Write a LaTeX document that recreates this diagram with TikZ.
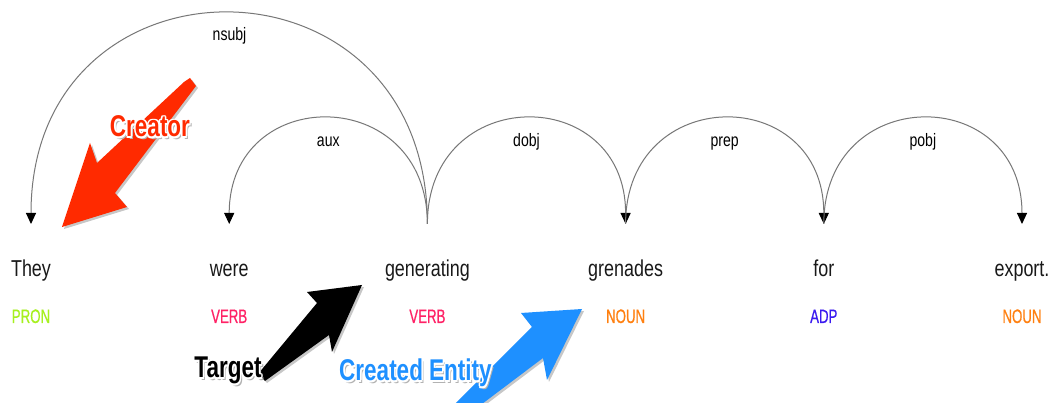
\documentclass[tikz,border=0pt]{standalone}
\usepackage{fontspec}
\usetikzlibrary{arrows.meta,calc}
\newfontfamily\wordfont[FakeStretch=0.78]{Liberation Sans}
\newfontfamily\posfont[FakeStretch=0.68,FakeBold=0.6]{Liberation Sans}
\newfontfamily\callfont[FakeStretch=0.75]{Liberation Sans}
\definecolor{pron}{HTML}{A6F01E}
\definecolor{verb}{HTML}{FF2266}
\definecolor{noun}{HTML}{FF8010}
\definecolor{adp}{HTML}{3A1AF0}
\definecolor{creatorred}{HTML}{FF2A00}
\definecolor{entityblue}{HTML}{1E90FF}
\definecolor{arcgray}{HTML}{777777}
\tikzset{
  word/.style={font=\wordfont\fontsize{23}{26}\selectfont, anchor=base, inner sep=0pt, text=black!90},
  postag/.style={font=\posfont\fontsize{19.5}{22}\selectfont, anchor=base, inner sep=0pt},
  deplabel/.style={font=\wordfont\fontsize{18}{21}\selectfont, anchor=base, inner sep=0pt, text=black},
  deparc/.style={draw=arcgray, line width=1pt, -{Triangle[width=10pt,length=11pt,black]}},
  calltext/.style={font=\callfont\bfseries\fontsize{30}{34}\selectfont, anchor=base, inner sep=0pt},
  arrowshadow/.style={fill=black!22},
}
\newcommand\calloutlabel[4]{%
  \node[calltext,text=black!30] (#1shadow) at ($(#2)+(2.2,-2.2)$) {#4};
  \foreach \dx/\dy [count=\k] in {1.6/0,-1.6/0,0/1.6,0/-1.6,1.15/1.15,-1.15/1.15,1.15/-1.15,-1.15/-1.15}{\node[calltext,text=white] (#1halo\k) at ($(#2)+(\dx,\dy)$) {#4};}
  \node[calltext,text=#3] (#1) at (#2) {#4};}
\begin{document}
\begin{tikzpicture}[x=1pt,y=1pt]
\useasboundingbox[fill=white] (0,0) rectangle (1058,403);
% tokens
\foreach \i/\x/\w/\p/\c in {1/31/They/PRON/pron, 2/229.2/were/VERB/verb, 3/427.4/generating/VERB/verb, 4/625.6/grenades/NOUN/noun, 5/823.8/for/ADP/adp, 6/1022/export./NOUN/noun}{
  \coordinate (t\i) at (\x,179);
  \node[word] (w\i) at (\x,126) {\w};
  \node[postag,text=\c] (p\i) at (\x,80) {\p};
}
% dependency arcs
\draw[deparc] (t3) .. controls +(0,281) and +(0,281) .. (t1);
\draw[deparc] (t3) .. controls +(0,141) and +(0,141) .. (t2);
\draw[deparc] (t3) .. controls +(0,141) and +(0,141) .. (t4);
\draw[deparc] (t4) .. controls +(0,141) and +(0,141) .. (t5);
\draw[deparc] (t5) .. controls +(0,141) and +(0,141) .. (t6);
\node[deplabel] (l1) at (229.5,362) {nsubj};
\node[deplabel] (l2) at (328.3,256) {aux};
\node[deplabel] (l3) at (526.5,256) {dobj};
\node[deplabel] (l4) at (724.7,256) {prep};
\node[deplabel] (l5) at (922.9,256) {pobj};
% red callout arrow
\fill[arrowshadow, xshift=2pt, yshift=-2pt] (184,321) -- (97,240) -- (90,260) -- (62,176) -- (127,196) -- (115,210) -- (196,317) -- (190,325) -- cycle;
\fill[creatorred] (184,321) -- (97,240) -- (90,260) -- (62,176) -- (127,196) -- (115,210) -- (196,317) -- (190,325) -- cycle;
% black callout arrow
\fill[arrowshadow, xshift=2pt, yshift=-2pt] (362,118) -- (307,111) -- (317,100) -- (258,29) -- (265,22) -- (329,68) -- (332,51) -- cycle;
\fill[black] (362,118) -- (307,111) -- (317,100) -- (258,29) -- (265,22) -- (329,68) -- (332,51) -- cycle;
% blue callout arrow
\fill[arrowshadow, xshift=2pt, yshift=-2pt] (582,94) -- (521,90) -- (532,76) -- (452,-4) -- (478,-4) -- (543,45) -- (547,23) -- cycle;
\fill[entityblue] (582,94) -- (521,90) -- (532,76) -- (452,-4) -- (478,-4) -- (543,45) -- (547,23) -- cycle;
% callout labels
\coordinate (creatorpos) at (150,266);
\coordinate (targetpos) at (228,25);
\coordinate (entitypos) at (415.5,22);
\calloutlabel{creator}{creatorpos}{creatorred}{Creator}
\calloutlabel{target}{targetpos}{black}{Target}
\calloutlabel{entity}{entitypos}{entityblue}{Created Entity}
\end{tikzpicture}
\end{document}
